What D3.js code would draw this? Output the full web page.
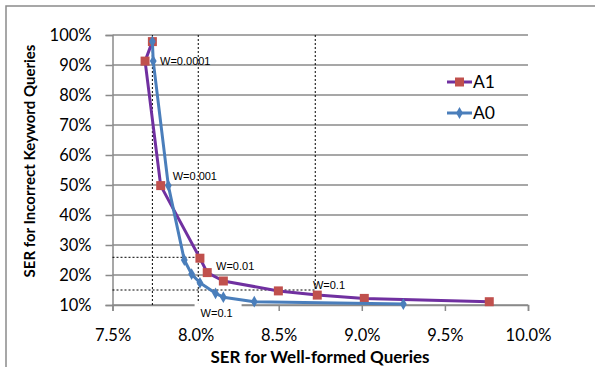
<!DOCTYPE html>
<html lang="en">
<head>
<meta charset="UTF-8">
<title>SER trade-off</title>
<script src="https://d3js.org/d3.v7.min.js"></script>
<style>
    body { margin: 0; background: #fff; }
    .tick-label { font-family: Lato, "Liberation Sans", sans-serif; font-size: 16.5px; fill: #000; }
    .axis-title { font-family: Lato, "Liberation Sans", sans-serif; font-size: 15px; font-weight: bold; fill: #000; }
    .note { font-family: "Liberation Sans", Arial, sans-serif; font-size: 11px; fill: #000; }
</style>
</head>
<body>
<svg width="595" height="367"></svg>
<script>
// x = SER for well-formed queries (%), y = SER for incorrect keyword queries (%)
const a1X = [7.74, 7.696, 7.79, 8.026, 8.07, 8.167, 8.498, 8.732, 9.015, 9.767];
const a1Y = [97.8, 91.3, 49.8, 25.6, 20.8, 18.0, 14.7, 13.3, 12.2, 11.1];
const a0X = [7.74, 7.745, 7.836, 7.932, 7.976, 8.026, 8.12, 8.167, 8.353, 9.25];
const a0Y = [97.8, 91.3, 49.8, 25.0, 20.3, 17.4, 13.9, 12.6, 11.1, 10.3];

const xTicks = [7.5, 8.0, 8.5, 9.0, 9.5, 10.0];
const yTicks = [10, 20, 30, 40, 50, 60, 70, 80, 90, 100];

// weight annotations
const notes = [
    { text: "W=0.0001", x: 7.786, y: 91.3 },
    { text: "W=0.001", x: 7.862, y: 53.0 },
    { text: "W=0.01", x: 8.123, y: 23.1 },
    { text: "W=0.1", x: 8.706, y: 16.7 }
];
const noteBelow = { text: "W=0.1", x: 8.03, y: 7.3 };

// dotted guide lines [x1, y1, x2, y2]
const guides = [
    [7.74, 100, 7.74, 10],
    [8.016, 100, 8.016, 10],
    [8.72, 100, 8.72, 15],
    [7.5, 25.9, 8.016, 25.9],
    [7.5, 15, 8.72, 15]
];

const svg = d3.select("svg");
const gridColor = "#8a8a8a";

// outer chart frame
svg.append("rect")
    .attr("x", 6).attr("y", 6)
    .attr("width", 600).attr("height", 380)
    .attr("fill", "none")
    .attr("stroke", gridColor)
    .attr("stroke-width", 1.5);

const x = d3.scaleLinear().domain([7.5, 10]).range([112.5, 528]);
const y = d3.scaleLinear().domain([10, 100]).range([305, 35]);

// horizontal gridlines
svg.append("g").selectAll("line")
    .data(yTicks)
    .enter().append("line")
    .attr("x1", x(7.5)).attr("x2", x(10))
    .attr("y1", d => y(d)).attr("y2", d => y(d))
    .attr("stroke", gridColor)
    .attr("stroke-width", 1.5);

// y axis
const yAxis = svg.append("g")
    .attr("transform", `translate(${x(7.5)},0)`)
    .call(d3.axisLeft(y).tickValues(yTicks).tickFormat(d => d + "%").tickSize(7).tickPadding(14));
yAxis.select(".domain").attr("stroke", gridColor).attr("stroke-width", 1.5);
yAxis.selectAll(".tick line").attr("stroke", gridColor).attr("stroke-width", 1.5);
yAxis.selectAll(".tick text").attr("class", "tick-label").attr("font-family", null).attr("font-size", null);

// x axis
const xAxis = svg.append("g")
    .attr("transform", `translate(0,${y(10)})`)
    .call(d3.axisBottom(x).tickValues(xTicks).tickFormat(d => d.toFixed(1) + "%").tickSize(6).tickPadding(18));
xAxis.select(".domain").attr("stroke", gridColor).attr("stroke-width", 1.5);
xAxis.selectAll(".tick line").attr("stroke", gridColor).attr("stroke-width", 1.5);
xAxis.selectAll(".tick text").attr("class", "tick-label").attr("font-family", null).attr("font-size", null);

// guide lines
svg.append("g").selectAll("line")
    .data(guides)
    .enter().append("line")
    .attr("x1", d => x(d[0])).attr("y1", d => y(d[1]))
    .attr("x2", d => x(d[2])).attr("y2", d => y(d[3]))
    .attr("stroke", "#000")
    .attr("stroke-width", 1)
    .attr("stroke-dasharray", "2,2");

// label under the axis sits on a white box
const nb = svg.append("g");
nb.append("rect")
    .attr("x", x(noteBelow.x) - 6).attr("y", y(noteBelow.y) - 10)
    .attr("width", 47).attr("height", 20)
    .attr("fill", "#fff");
nb.append("text")
    .attr("class", "note")
    .attr("x", x(noteBelow.x)).attr("y", y(noteBelow.y))
    .attr("dy", "0.35em")
    .text(noteBelow.text);

// series
const series = [
    { name: "A1", xs: a1X, ys: a1Y, line: "#7030A0", mark: "#C0504D", shape: d3.symbolSquare, size: 81 },
    { name: "A0", xs: a0X, ys: a0Y, line: "#4A7EBB", mark: "#4A7EBB", shape: d3.symbolDiamond, size: 40 }
];

const line = d3.line().x(d => x(d[0])).y(d => y(d[1]));

series.forEach(s => {
    const pts = s.xs.map((v, i) => [v, s.ys[i]]);
    svg.append("path")
        .datum(pts)
        .attr("d", line)
        .attr("fill", "none")
        .attr("stroke", s.line)
        .attr("stroke-width", 3)
        .attr("stroke-linejoin", "round");
    svg.append("g").selectAll("path")
        .data(pts)
        .enter().append("path")
        .attr("d", d3.symbol().type(s.shape).size(s.size))
        .attr("transform", d => `translate(${x(d[0])},${y(d[1])})`)
        .attr("fill", s.mark);
});

// annotations
svg.append("g").selectAll("text")
    .data(notes)
    .enter().append("text")
    .attr("class", "note")
    .attr("x", d => x(d.x)).attr("y", d => y(d.y))
    .attr("dy", "0.35em")
    .text(d => d.text);

// legend
const legend = svg.append("g");
series.forEach((s, i) => {
    const ly = 82 + i * 31;
    legend.append("line")
        .attr("x1", 447).attr("x2", 472)
        .attr("y1", ly).attr("y2", ly)
        .attr("stroke", s.line)
        .attr("stroke-width", 3);
    legend.append("path")
        .attr("d", d3.symbol().type(s.shape).size(s.size))
        .attr("transform", `translate(459.5,${ly})`)
        .attr("fill", s.mark);
    legend.append("text")
        .attr("class", "tick-label")
        .attr("x", 473).attr("y", ly)
        .attr("dy", "0.36em")
        .style("font-size", "17.5px")
        .text(s.name);
});

// axis titles
svg.append("text")
    .attr("class", "axis-title")
    .attr("text-anchor", "middle")
    .attr("x", 320).attr("y", 363)
    .style("font-size", "17px")
    .text("SER for Well-formed Queries");

svg.append("text")
    .attr("class", "axis-title")
    .attr("text-anchor", "middle")
    .attr("transform", "translate(35,161) rotate(-90)")
    .text("SER for Incorrect Keyword Queries");
</script>
</body>
</html>
